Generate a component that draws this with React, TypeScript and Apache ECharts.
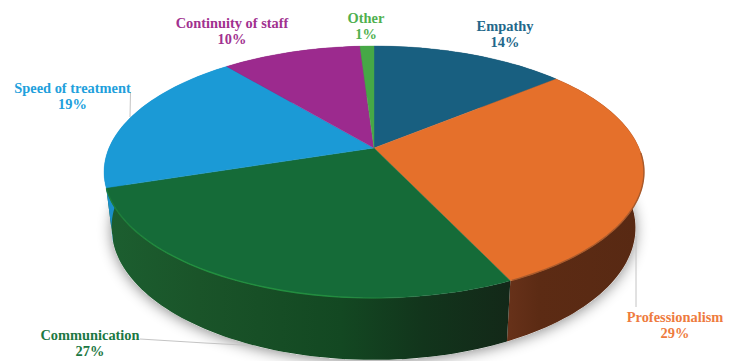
import React, { useEffect, useRef } from "react";
import * as echarts from "echarts";

// Share of responses per quality of care, clockwise from twelve o'clock.
const categories = ["Empathy", "Professionalism", "Communication", "Speed of treatment", "Continuity of staff", "Other"];
const shares = [14, 29, 27, 19, 10, 1];
const topColors = ["#185f80", "#e5702b", "#156b38", "#1b9ad6", "#9c2a8e", "#46a846"];
const labelColors = ["#22678a", "#ee7b3e", "#1c7843", "#219fdc", "#a1318f", "#4fb04f"];

// Rim projections of the tilted cylinder: a = depth scale, b = width scale, k = perspective strength.
const topDisc = { cx: 374, cy: 148, a: 121.4, b: 265, k: 0.1905 };
const baseDisc = { cx: 373.5, cy: 201.5, a: 126.7, b: 256.7, k: 0.2 };

// Label centres and leader lines, in pixels.
const labelCentres = [
  [505, 34],
  [675, 325],
  [90, 343],
  [72.5, 96],
  [232, 31],
  [366, 26],
];
const leaderLines = [
  [[130.5, 92], [130, 117]],
  [[140, 339], [205, 343], [252, 345.5]],
  [[636, 236], [636, 307]],
];

const WIDTH = 732;
const HEIGHT = 361;

type Disc = typeof topDisc;

function rimPoint(d: Disc, deg: number): number[] {
  const t = (deg * Math.PI) / 180;
  const u = Math.sin(t);
  const v = -Math.cos(t);
  const w = 1 - d.k * v;
  return [d.cx + (d.b * u) / w, d.cy + (d.a * v) / w];
}

function rimArc(d: Disc, from: number, to: number): number[][] {
  const steps = Math.max(2, Math.ceil(Math.abs(to - from) / 1.5));
  const pts: number[][] = [];
  for (let i = 0; i <= steps; i++) pts.push(rimPoint(d, from + ((to - from) * i) / steps));
  return pts;
}

// Start and end angle of a slice, from the cumulative shares.
function sliceAngles(i: number): number[] {
  const total = shares.reduce((s, v) => s + v, 0);
  const before = shares.slice(0, i).reduce((s, v) => s + v, 0);
  return [(before / total) * 360, ((before + shares[i]) / total) * 360];
}

function hGradient(x: number, x2: number, stops: [number, string][]) {
  return {
    type: "linear",
    global: true,
    x,
    y: 0,
    x2,
    y2: 0,
    colorStops: stops.map(([offset, color]) => ({ offset, color })),
  };
}

const sideFills: any[] = [
  "#123f55",
  hGradient(505, 640, [
    [0, "#68321a"],
    [0.25, "#5c2b14"],
    [1, "#582913"],
  ]),
  hGradient(105, 512, [
    [0, "#1c5f30"],
    [0.23, "#1a5429"],
    [0.58, "#134822"],
    [0.78, "#12351c"],
    [1, "#132818"],
  ]),
  "#1a8fca",
  "#6c1d62",
  "#2f7a2f",
];

// Bevel strokes along the front of the upper face.
const rimStrokes: any[] = [
  "",
  "#a85a2c",
  hGradient(105, 420, [
    [0, "#1d7a39"],
    [0.25, "#22903f"],
    [0.75, "#228c3f"],
    [1, "rgba(34,140,63,0)"],
  ]),
  "",
  "",
  "",
];

const baseSeries = {
  type: "custom",
  coordinateSystem: "none",
  silent: true,
  data: [1],
  renderItem: () => ({
    type: "polygon",
    shape: { points: rimArc(baseDisc, 0, 360) },
    style: {
      fill: "#ffffff",
      shadowBlur: 14,
      shadowColor: "rgba(0,0,0,0.45)",
      shadowOffsetX: 0,
      shadowOffsetY: 2,
    },
  }),
};

const sideSeries = {
  type: "custom",
  coordinateSystem: "none",
  silent: true,
  data: shares,
  renderItem: (params: any) => {
    const [a0, a1] = sliceAngles(params.dataIndex);
    const points = [...rimArc(topDisc, a0, a1), ...rimArc(baseDisc, a1, a0)];
    return { type: "polygon", shape: { points }, style: { fill: sideFills[params.dataIndex] } };
  },
};

const topSeries = {
  type: "custom",
  coordinateSystem: "none",
  silent: true,
  data: shares,
  renderItem: (params: any) => {
    const i = params.dataIndex;
    const [a0, a1] = sliceAngles(i);
    const fill = topColors[i];
    const children: any[] = [
      {
        type: "polygon",
        shape: { points: [[topDisc.cx, topDisc.cy], ...rimArc(topDisc, a0, a1)] },
        style: { fill, stroke: fill, lineWidth: 0.4 },
      },
    ];
    if (rimStrokes[i]) {
      children.push({
        type: "polyline",
        shape: { points: rimArc(topDisc, Math.max(a0, i === 1 ? 92 : a0) + 0.3, a1 - 0.3) },
        style: { fill: "none", stroke: rimStrokes[i], lineWidth: 1.4 },
      });
    }
    return { type: "group", children };
  },
};

const labelSeries = {
  type: "custom",
  coordinateSystem: "none",
  silent: true,
  data: shares,
  renderItem: (params: any) => {
    const i = params.dataIndex;
    return {
      type: "text",
      style: {
        text: `${categories[i]}\n${shares[i]}%`,
        x: labelCentres[i][0],
        y: labelCentres[i][1],
        align: "center",
        verticalAlign: "middle",
        fill: labelColors[i],
        font: 'bold 14.4px "Liberation Serif"',
        lineHeight: 16,
      },
    };
  },
};

const leaderSeries = {
  type: "custom",
  coordinateSystem: "none",
  silent: true,
  data: leaderLines.map((_, i) => i),
  renderItem: (params: any) => ({
    type: "polyline",
    shape: { points: leaderLines[params.dataIndex] },
    style: { fill: "none", stroke: "#c4c4c4", lineWidth: 1 },
  }),
};

export default function App() {
  const ref = useRef<HTMLDivElement>(null);

  useEffect(() => {
    document.body.style.margin = "0";
    const chart = echarts.init(ref.current!, undefined, { renderer: "svg" });
    chart.setOption({
      animation: false,
      backgroundColor: "#ffffff",
      series: [baseSeries, leaderSeries, sideSeries, topSeries, labelSeries],
    });
    return () => chart.dispose();
  }, []);

  return <div ref={ref} style={{ width: WIDTH, height: HEIGHT }} />;
}
